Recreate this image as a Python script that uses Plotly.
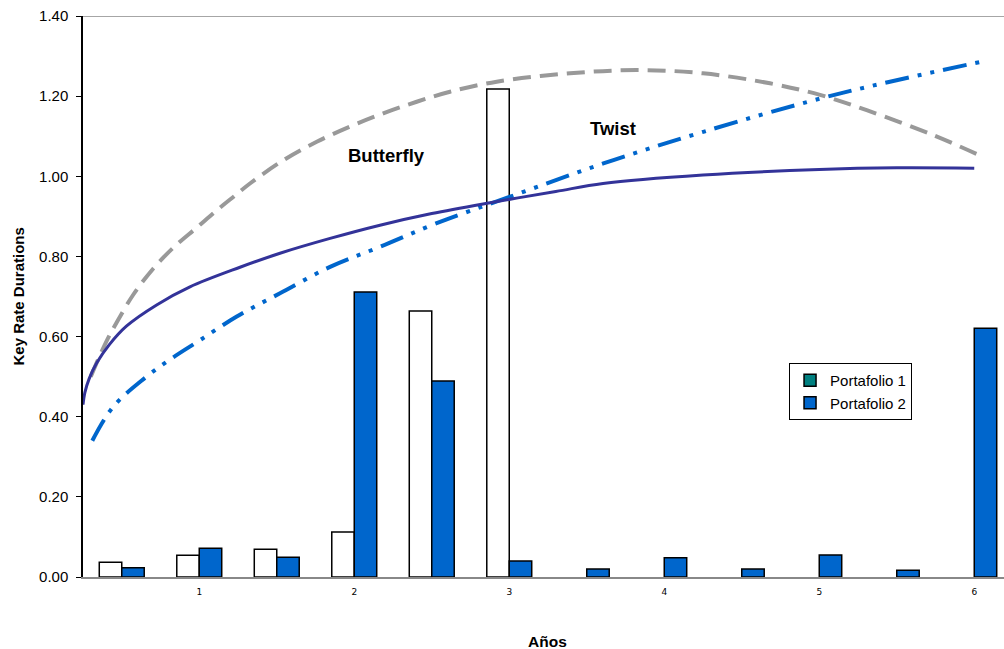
import plotly.graph_objects as go

# ---- data ----
categories = [0.5, 1.0, 1.5, 2.0, 2.5, 3.0, 3.5, 4.0, 4.5, 5.0, 5.5, 6.0]
portafolio1 = [0.037, 0.054, 0.069, 0.112, 0.664, 1.218, None, None, None, None, None, None]
portafolio2 = [0.023, 0.072, 0.049, 0.711, 0.489, 0.040, 0.020, 0.048, 0.020, 0.055, 0.017, 0.621]

solid_x = [0.25, 0.262, 0.29, 0.34, 0.42, 0.53, 0.725, 0.94, 1.263, 1.521, 1.844, 2.166, 2.5, 2.876, 3.3, 3.605, 4.25, 5.0, 5.5, 6.0]
solid_y = [0.43, 0.46, 0.495, 0.535, 0.58, 0.626, 0.679, 0.724, 0.773, 0.808, 0.845, 0.878, 0.907, 0.934, 0.962, 0.982, 1.003, 1.017, 1.021, 1.02]

butterfly_x = [0.30, 0.35, 0.41, 0.467, 0.575, 0.704, 0.833, 0.984, 1.113, 1.231, 1.327, 1.542, 1.758, 1.973,
               2.187, 2.403, 2.618, 2.919, 3.392, 3.822, 4.25, 4.682, 5.005, 5.306, 5.734, 6.03]
butterfly_y = [0.50, 0.545, 0.595, 0.635, 0.705, 0.77, 0.822, 0.872, 0.915, 0.952, 0.982, 1.04, 1.086, 1.124,
               1.157, 1.186, 1.211, 1.236, 1.257, 1.265, 1.257, 1.232, 1.203, 1.165, 1.103, 1.053]

twist_x = [0.31, 0.445, 0.65, 0.82, 1.005, 1.242, 1.521, 1.844, 2.166, 2.532, 3.005, 3.607, 4.252, 5.005, 5.456, 6.048]
twist_y = [0.34, 0.425, 0.497, 0.545, 0.591, 0.650, 0.708, 0.774, 0.824, 0.883, 0.949, 1.032, 1.111, 1.194, 1.236, 1.286]

y_ticks = [0.0, 0.2, 0.4, 0.6, 0.8, 1.0, 1.2, 1.4]
x_ticks = [1, 2, 3, 4, 5, 6]

FONT = "Arial, Liberation Sans, sans-serif"
BAR_W = 0.145

fig = go.Figure()

fig.add_trace(go.Bar(x=categories, y=portafolio1, width=BAR_W, offset=-BAR_W,
                     marker=dict(color="white", line=dict(color="black", width=1.5)),
                     showlegend=False, name="Portafolio 1"))
fig.add_trace(go.Bar(x=categories, y=portafolio2, width=BAR_W, offset=0,
                     marker=dict(color="#0066cc", line=dict(color="black", width=1.5)),
                     name="Portafolio 2", showlegend=False))
# legend entries
fig.add_trace(go.Bar(x=[None], y=[None], name="Portafolio 1",
                     marker=dict(color="#008080", line=dict(color="black", width=1.5))))
fig.add_trace(go.Bar(x=[None], y=[None], name="Portafolio 2",
                     marker=dict(color="#0066cc", line=dict(color="black", width=1.5))))

fig.add_trace(go.Scatter(x=butterfly_x, y=butterfly_y, mode="lines", line_shape="spline",
                         line=dict(color="#999999", width=4, dash="18px,9px"), showlegend=False))
fig.add_trace(go.Scatter(x=twist_x, y=twist_y, mode="lines", line_shape="spline",
                         line=dict(color="#0066cc", width=4, dash="24px,9px,4px,9px,4px,9px"),
                         showlegend=False))
fig.add_trace(go.Scatter(x=solid_x, y=solid_y, mode="lines", line_shape="spline",
                         line=dict(color="#333399", width=3), showlegend=False))

fig.add_annotation(x=2.211, y=1.051, text="<b>Butterfly</b>", showarrow=False,
                   font=dict(family=FONT, size=18.5, color="black"))
fig.add_annotation(x=3.669, y=1.12, text="<b>Twist</b>", showarrow=False,
                   font=dict(family=FONT, size=18.5, color="black"))

fig.add_annotation(xref="paper", yref="paper", x=0.504, y=0, yshift=-64, yanchor="middle",
                   text="<b>Años</b>", showarrow=False,
                   font=dict(family=FONT, size=15.5, color="black"))
fig.add_annotation(xref="paper", yref="paper", x=0, xshift=-65, xanchor="center", y=0.5,
                   text="<b>Key Rate Durations</b>", textangle=-90, showarrow=False,
                   font=dict(family=FONT, size=15, color="black"))

fig.add_shape(type="line", xref="paper", yref="y", x0=0, x1=1, y0=1.4, y1=1.4,
              line=dict(color="#888888", width=1.5))

fig.update_layout(
    width=1004, height=649,
    margin=dict(l=83, r=0, t=16, b=72),
    plot_bgcolor="white", paper_bgcolor="white",
    barmode="overlay",
    font=dict(family=FONT, color="black"),
    legend=dict(x=0.7666, y=0.3815, xanchor="left", yanchor="top",
                bordercolor="black", borderwidth=1, bgcolor="white",
                font=dict(family=FONT, size=15, color="black"),
                itemwidth=30, tracegroupgap=0),
    xaxis=dict(range=[0.25, 0.25 + 921 / 155], tickvals=x_ticks, ticktext=[str(v) for v in x_ticks],
               showgrid=False, zeroline=False, showline=True, linecolor="#888888", linewidth=1.5,
               ticks="", ticklabelstandoff=5,
               tickfont=dict(family="Verdana, DejaVu Sans, sans-serif", size=9, color="black")),
    yaxis=dict(range=[0, 1.4], tickvals=y_ticks, ticktext=[f"{v:.2f}" for v in y_ticks],
               showgrid=False, zeroline=False, showline=True, linecolor="black", linewidth=1.5,
               ticks="outside", ticklen=5, tickcolor="black", ticklabelstandoff=5,
               tickfont=dict(family=FONT, size=15, color="black")),
)

fig.write_html("out.html")
